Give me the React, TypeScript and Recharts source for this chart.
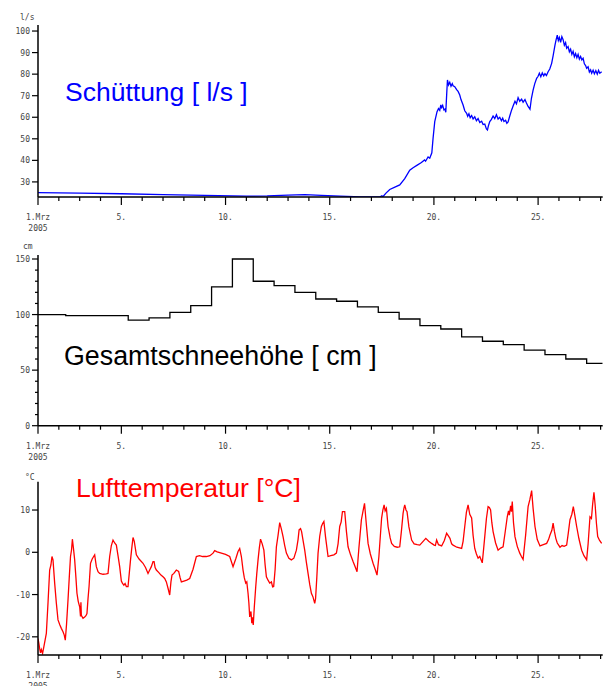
import React from 'react';
import { LineChart, Line, XAxis, YAxis } from 'recharts';

// days of March 2005 (1 = 1 Mar 00:00)
const dayTicks = [1, 2, 3, 4, 5, 6, 7, 8, 9, 10, 11, 12, 13, 14, 15, 16, 17, 18, 19, 20, 21, 22, 23, 24, 25, 26, 27, 28];
const majorDays = [1, 5, 10, 15, 20, 25];

const flowTicks = [30, 40, 50, 60, 70, 80, 90, 100];
const snowTicks = [0, 10, 20, 30, 40, 50, 60, 70, 80, 90, 100, 110, 120, 130, 140, 150];
const snowLabels = [0, 50, 100, 150];
const tempTicks = [-20, -10, 0, 10];

// Schüttung [l/s]
const flowDays = [
  1.0, 3.0, 5.0, 7.0, 9.0, 11.0, 12.0, 13.0, 13.8, 14.6, 15.5, 16.5, 17.4, 17.5, 17.55, 17.7, 17.88, 18.1, 18.36,
  18.6, 18.84, 19.0, 19.2, 19.4, 19.55, 19.6, 19.72, 19.8, 19.9, 19.96, 20.04, 20.15, 20.22, 20.28, 20.33, 20.37,
  20.42, 20.48, 20.53, 20.57, 20.62, 20.65, 20.7, 20.76, 20.82, 20.88, 20.92, 21.0, 21.09, 21.16, 21.24, 21.3, 21.4,
  21.48, 21.57, 21.62, 21.68, 21.74, 21.81, 21.88, 21.96, 22.04, 22.12, 22.2, 22.29, 22.36, 22.44, 22.52, 22.57,
  22.62, 22.68, 22.76, 22.84, 22.92, 23.0, 23.08, 23.16, 23.24, 23.3, 23.36, 23.44, 23.5, 23.56, 23.64, 23.73, 23.8,
  23.89, 23.96, 24.04, 24.12, 24.21, 24.28, 24.37, 24.44, 24.52, 24.61, 24.68, 24.76, 24.84, 24.93, 25.0, 25.06,
  25.13, 25.2, 25.27, 25.33, 25.4, 25.48, 25.56, 25.65, 25.72, 25.81, 25.86, 25.92, 25.97, 26.02, 26.08, 26.14, 26.2,
  26.26, 26.32, 26.37, 26.44, 26.5, 26.56, 26.62, 26.68, 26.74, 26.8, 26.86, 26.92, 26.98, 27.04, 27.1, 27.16, 27.22,
  27.28, 27.33, 27.4, 27.46, 27.52, 27.57, 27.64, 27.7, 27.77, 27.84, 27.9, 27.96, 28.05,
];
const flowValues = [
  25.0, 24.8, 24.5, 24.1, 23.8, 23.4, 23.5, 23.9, 24.1, 23.8, 23.4, 23.1, 23.0, 23.6, 23.1, 24.8, 26.5, 27.5, 28.6,
  31.5, 35.4, 36.6, 37.8, 39.0, 40.2, 39.6, 41.6, 41.0, 43.5, 50.3, 58.0, 62.6, 64.0, 63.2, 65.7, 64.5,
  65.5, 63.4, 63.8, 62.3, 72.0, 77.3, 75.0, 76.2, 74.4, 75.6, 74.6, 74.2, 72.8, 72.0, 70.3, 68.2, 65.7,
  63.0, 61.8, 60.4, 61.6, 59.8, 60.8, 59.2, 60.2, 58.4, 59.4, 57.6, 58.2, 56.6, 56.8, 54.6, 54.1,
  56.2, 58.0, 59.0, 60.6, 59.4, 61.2, 59.2, 60.0, 58.4, 59.6, 58.0, 58.6, 57.2, 57.8, 60.6, 63.4, 65.2,
  67.4, 66.2, 69.1, 67.4, 68.4, 67.0, 68.2, 66.6, 65.0, 63.7, 68.8, 72.6, 75.6, 78.1, 79.0, 80.4,
  78.8, 80.6, 79.2, 80.2, 79.4, 81.1, 82.4, 85.0, 88.5, 93.5, 95.8, 98.1, 95.6, 97.0, 94.8, 97.4, 96.0,
  93.4, 94.6, 92.0, 92.8, 90.4, 91.6, 89.2, 90.6, 88.1, 89.6, 87.6, 89.2, 87.0, 88.2, 86.6, 87.4, 84.8,
  84.0, 82.7, 83.4, 81.0, 82.0, 80.4, 81.8, 80.2, 81.6, 80.0, 81.8, 80.4, 81.1,
];

// Gesamtschneehöhe [cm], daily reading at about 8:00
const snowDays = [
  1, 2.33, 3.33, 4.33, 5.33, 6.33, 7.33, 8.33, 9.33, 10.33, 11.33, 12.33, 13.33, 14.33, 15.33, 16.33, 17.33, 18.33,
  19.33, 20.33, 21.33, 22.33, 23.33, 24.33, 25.33, 26.33, 27.33, 28.1,
];
const snowValues = [
  100, 99, 99, 99, 95, 97, 102, 108, 125, 150, 130, 126, 120, 114, 112, 107, 102, 96, 90, 87, 80, 76, 73, 68, 64, 60,
  56, 56,
];

// Lufttemperatur [°C]
const tempDays = [
  1.0, 1.04, 1.08, 1.12, 1.16, 1.22, 1.28, 1.4, 1.48, 1.56, 1.62, 1.67, 1.72, 1.8, 1.88, 1.96, 2.05, 2.12, 2.2, 2.26,
  2.31, 2.37, 2.44, 2.5, 2.56, 2.61, 2.65, 2.7, 2.76, 2.82, 2.87, 2.93, 3.0, 3.04, 3.06, 3.08, 3.16, 3.24, 3.3, 3.35,
  3.4, 3.45, 3.52, 3.6, 3.67, 3.72, 3.8, 3.88, 3.96, 4.12, 4.28, 4.36, 4.44, 4.52, 4.6, 4.68, 4.76, 4.84, 4.92, 5.0,
  5.05, 5.12, 5.18, 5.24, 5.32, 5.38, 5.44, 5.5, 5.56, 5.62, 5.72, 5.85, 6.04, 6.16, 6.28, 6.36, 6.44, 6.52, 6.57,
  6.62, 6.68, 6.8, 6.9, 7.0, 7.08, 7.16, 7.24, 7.32, 7.38, 7.43, 7.52, 7.64, 7.75, 7.82, 7.88, 8.0, 8.14, 8.28, 8.44,
  8.6, 8.75, 8.9, 9.08, 9.25, 9.4, 9.48, 9.6, 9.8, 10.0, 10.2, 10.36, 10.5, 10.6, 10.68, 10.76, 10.84, 10.9, 10.97,
  11.02, 11.08, 11.12, 11.16, 11.22, 11.26, 11.29, 11.33, 11.38, 11.45, 11.5, 11.56, 11.62, 11.68, 11.76, 11.84, 11.9,
  11.96, 12.04, 12.12, 12.2, 12.26, 12.31, 12.38, 12.44, 12.52, 12.6, 12.68, 12.76, 12.84, 12.92, 13.04, 13.16, 13.28,
  13.4, 13.48, 13.53, 13.6, 13.65, 13.72, 13.8, 13.88, 13.96, 14.04, 14.12, 14.2, 14.28, 14.32, 14.38, 14.44, 14.52,
  14.6, 14.66, 14.72, 14.8, 14.92, 15.05, 15.2, 15.32, 15.4, 15.48, 15.55, 15.61, 15.72, 15.8, 15.88, 16.0, 16.12,
  16.22, 16.31, 16.4, 16.52, 16.6, 16.67, 16.75, 16.84, 16.95, 17.08, 17.18, 17.27, 17.36, 17.49, 17.55, 17.61, 17.66,
  17.72, 17.8, 17.9, 17.97, 18.1, 18.24, 18.36, 18.44, 18.52, 18.56, 18.6, 18.66, 18.71, 18.8, 18.93, 19.05, 19.2,
  19.32, 19.45, 19.61, 19.75, 19.89, 20.01, 20.07, 20.13, 20.22, 20.37, 20.5, 20.61, 20.68, 20.77, 20.85, 20.92, 21.1,
  21.33, 21.4, 21.48, 21.56, 21.64, 21.72, 21.81, 21.88, 21.96, 22.04, 22.12, 22.2, 22.32, 22.38, 22.44, 22.52, 22.6,
  22.66, 22.72, 22.78, 22.84, 22.96, 23.08, 23.2, 23.32, 23.42, 23.52, 23.58, 23.62, 23.68, 23.72, 23.76, 23.82, 23.89,
  24.0, 24.12, 24.2, 24.28, 24.4, 24.52, 24.6, 24.69, 24.76, 24.85, 24.96, 25.09, 25.25, 25.41, 25.5, 25.57, 25.66,
  25.72, 25.78, 25.85, 25.92, 26.05, 26.15, 26.25, 26.37, 26.45, 26.53, 26.62, 26.69, 26.76, 26.85, 26.96, 27.09, 27.2,
  27.33, 27.4, 27.49, 27.56, 27.62, 27.68, 27.74, 27.8, 27.86, 27.95, 28.05,
];
const tempValues = [
  -20.4, -21.5, -22.8, -23.8, -23.0, -23.9, -22.4, -19.2, -12.0, -4.2, -3.0, -1.0, -1.8, -7.3, -12.0, -16.0, -17.2,
  -18.0, -18.8, -19.6, -20.8, -17.0, -11.3, -6.0, -1.0, 0.6, 3.1, 1.0, -1.8, -6.0, -9.7, -11.6, -12.9, -15.2, -11.8,
  -14.9, -15.6, -15.3, -15.0, -14.5, -11.0, -8.1, -2.6, -1.6, -1.0, -0.6, -3.4, -4.6, -5.0, -5.2, -5.1, -5.0, -1.0,
  1.6, 2.9, 2.2, 1.7, -0.8, -3.4, -6.8, -7.3, -7.8, -7.4, -8.1, -8.1, -5.0, -1.8, 1.0, 3.5, 2.6, -0.6, -1.6, -2.6,
  -3.6, -5.0, -4.2, -3.4, -2.2, -2.2, -3.6, -4.2, -4.8, -5.4, -5.8, -6.2, -7.0, -8.5, -10.1, -7.0, -5.4, -5.0, -4.2,
  -4.5, -6.0, -7.0, -6.8, -6.6, -6.2, -4.0, -1.0, -0.8, -1.0, -1.0, -0.8, -0.2, 0.4, 0.1, -0.2, -0.5, -1.0, -3.4,
  -1.4, 0.2, 0.9, -1.0, -4.2, -6.0, -7.3, -7.0, -9.7, -12.0, -15.3, -14.0, -16.8, -15.4, -17.2, -13.0, -8.1, -5.0,
  -1.8, 1.0, 3.1, 2.0, 0.5, -3.0, -5.8, -6.6, -7.3, -7.0, -8.2, -8.1, -4.0, 1.3, 4.0, 7.0, 5.5, 3.7, 1.6, -0.2, -1.4,
  -1.8, -1.4, 0.5, 3.0, 5.3, 5.6, 4.9, 2.8, 0.5, -2.4, -5.0, -7.6, -9.7, -10.6, -12.1, -11.0, -6.0, -0.2, 3.8, 6.1,
  6.8, 7.3, 3.6, -1.0, -0.8, -0.6, -0.2, 2.0, 6.1, 7.2, 9.6, 9.6, 5.0, 1.3, -0.6, -2.2, -3.4, -4.6, 1.0, 7.7, 9.8,
  11.6, 7.0, 2.1, -0.4, -2.6, -4.0, -5.4, -1.0, 8.1, 10.0, 11.2, 9.8, 10.4, 6.1, 3.4, 2.1, 1.4, 1.2, 1.3, 5.0, 9.2,
  10.4, 11.2, 10.0, 9.6, 6.0, 2.9, 2.0, 1.8, 1.7, 2.4, 3.3, 2.6, 2.1, 1.7, 1.6, 2.9, 1.8, 1.5, 2.8, 4.5, 4.0, 3.3,
  2.0, 1.7, 1.2, 0.9, 2.6, 6.1, 9.5, 11.2, 9.0, 8.1, 4.0, 0.9, -0.4, -1.4, -1.0, -2.5, 0.5, 3.7, 8.0, 10.8, 10.6,
  10.0, 7.0, 4.9, 2.2, 0.5, 1.0, 1.3, 4.8, 8.4, 9.8, 8.8, 11.0, 9.6, 12.0, 7.0, 3.7, 1.4, -0.2, -1.0, -1.7, 4.0, 10.8,
  12.4, 14.6, 10.4, 6.1, 3.0, 1.5, 1.8, 2.1, 3.0, 4.1, 5.2, 6.9, 5.0, 3.3, 2.2, 1.2, 1.6, 1.4, 1.7, 4.6, 7.7, 9.0,
  10.8, 8.8, 6.1, 3.2, 0.5, -0.8, -1.8, 2.0, 8.4, 8.0, 11.5, 14.2, 11.0, 6.8, 3.7, 2.8, 2.1,
];

const flowData = flowDays.map((d, i) => ({ d, v: flowValues[i] }));
const snowData = snowDays.map((d, i) => ({ d, v: snowValues[i] }));
const tempData = tempDays.map((d, i) => ({ d, v: tempValues[i] }));

const mono = '"DejaVu Sans Mono", monospace';
const sans = '"Liberation Sans", Arial, sans-serif';
const tickColor = '#444';

const XTick = (props: any) => {
  const { x, y, payload } = props;
  const v = payload.value;
  const major = majorDays.includes(v);
  return (
    <g>
      <line x1={x} x2={x} y1={y} y2={y + (major ? 8 : 4)} stroke="#000" strokeWidth={1.2} />
      {major && (
        <text x={x} y={y + 23} textAnchor="middle" fontFamily={mono} fontSize={8} fill={tickColor}>
          {v === 1 ? '1.Mrz' : `${v}.`}
        </text>
      )}
      {v === 1 && (
        <text x={x} y={y + 34} textAnchor="middle" fontFamily={mono} fontSize={8} fill={tickColor}>
          2005
        </text>
      )}
    </g>
  );
};

const makeYTick = (labels: number[] | null) => (props: any) => {
  const { x, y, payload } = props;
  const v = payload.value;
  const major = labels === null || labels.includes(v);
  return (
    <g>
      <line x1={x - (major ? 6 : 3)} x2={x} y1={y} y2={y} stroke="#000" strokeWidth={1.2} />
      {major && (
        <text x={x - 8} y={y + 3} textAnchor="end" fontFamily={mono} fontSize={8} fill={tickColor}>
          {v}
        </text>
      )}
    </g>
  );
};

const axisLine = { stroke: '#000', strokeWidth: 1.5 };

interface PanelProps {
  top: number;
  height: number;
  marginTop: number;
  xAxisHeight: number;
  data: { d: number; v: number }[];
  domain: [number, number];
  ticks: number[];
  labels: number[] | null;
  color: string;
  step?: boolean;
}

function Panel({ top, height, marginTop, xAxisHeight, data, domain, ticks, labels, color, step }: PanelProps) {
  return (
    <div style={{ position: 'absolute', left: 0, top, width: 605, height }}>
      <LineChart width={605} height={height} data={data} margin={{ top: marginTop, right: 2.3, bottom: 0, left: 0 }}>
        <XAxis
          dataKey="d"
          type="number"
          domain={[1, 28.1]}
          ticks={dayTicks}
          interval={0}
          allowDataOverflow
          height={xAxisHeight}
          axisLine={axisLine}
          tickLine={false}
          tickSize={0}
          tickMargin={0}
          tick={<XTick />}
        />
        <YAxis
          type="number"
          domain={domain}
          ticks={ticks}
          interval={0}
          allowDataOverflow
          width={38}
          axisLine={axisLine}
          tickLine={false}
          tickSize={0}
          tickMargin={0}
          tick={makeYTick(labels)}
        />
        <Line
          dataKey="v"
          type={step ? 'stepAfter' : 'linear'}
          stroke={color}
          strokeWidth={step ? 1.3 : 1.3}
          dot={false}
          isAnimationActive={false}
        />
      </LineChart>
    </div>
  );
}

export default function App() {
  return (
    <div style={{ position: 'absolute', left: 0, top: 0, width: 605, height: 686, background: '#fff', overflow: 'hidden' }}>
      <Panel top={0} height={240} marginTop={25} xAxisHeight={43} data={flowData} domain={[23, 102.8]} ticks={flowTicks} labels={null} color="#0000ff" />
      <Panel top={240} height={225} marginTop={15} xAxisHeight={39.3} data={snowData} domain={[0, 153.6]} ticks={snowTicks} labels={snowLabels} color="#000" step />
      <Panel top={465} height={221} marginTop={16.7} xAxisHeight={31} data={tempData} domain={[-24.3, 16.7]} ticks={tempTicks} labels={null} color="#ff0000" />
      <svg width={605} height={686} style={{ position: 'absolute', left: 0, top: 0, pointerEvents: 'none' }}>
        <text x={20} y={20} fontFamily={mono} fontSize={8} fill={tickColor}>l/s</text>
        <text x={23} y={249} fontFamily={mono} fontSize={8} fill={tickColor}>cm</text>
        <text x={25} y={479.5} fontFamily={mono} fontSize={8} fill={tickColor}>°C</text>
        <text x={65} y={101} fontFamily={sans} fontSize={26.5} fill="#0000ff">Schüttung [ l/s ]</text>
        <text x={64} y={365} fontFamily={sans} fontSize={26.8} fill="#000">Gesamtschneehöhe [ cm ]</text>
        <text x={76} y={497} fontFamily={sans} fontSize={26.6} fill="#ff0000">Lufttemperatur [°C]</text>
      </svg>
    </div>
  );
}
